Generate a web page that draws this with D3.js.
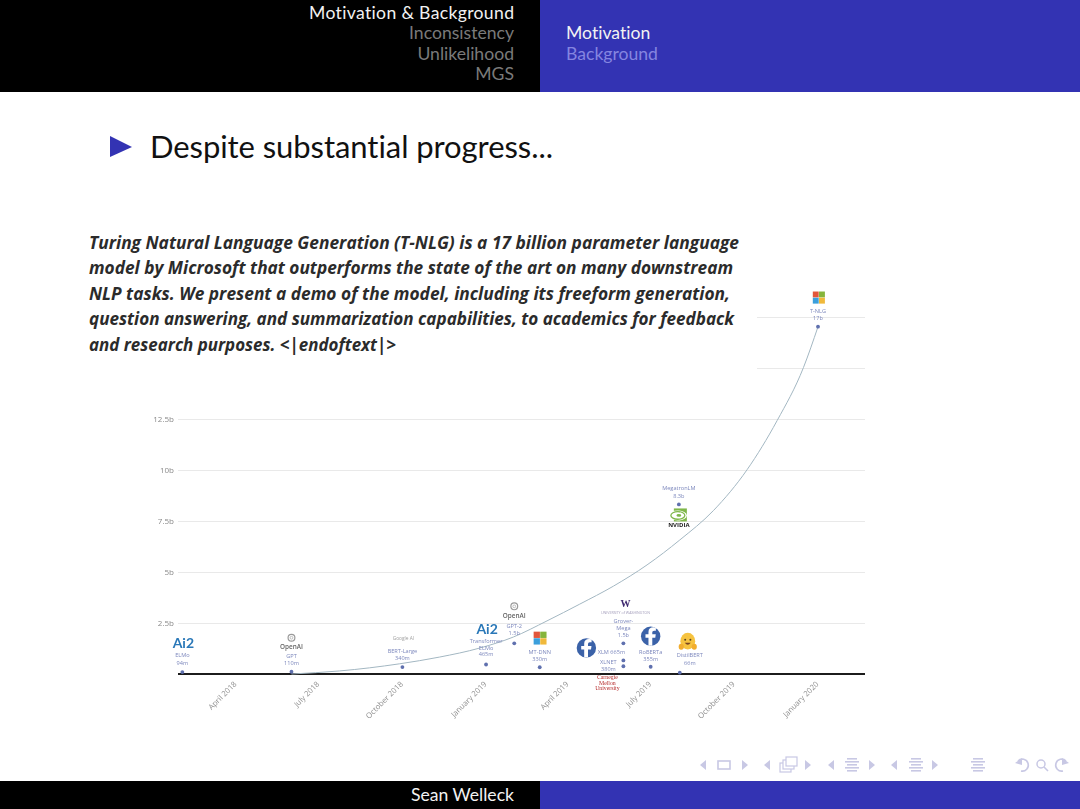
<!DOCTYPE html>
<html>
<head>
<meta charset="utf-8">
<title>Despite substantial progress</title>
<script src="https://cdn.jsdelivr.net/npm/d3@7"></script>
<style>
  html, body { margin: 0; padding: 0; background: #fff; }
  svg { display: block; }
  .slide { font-family: Lato, "Noto Sans", sans-serif; font-variant-ligatures: none; }
  .chart text { font-family: "Open Sans", sans-serif; }
  .quote { font-family: "Open Sans", sans-serif; font-weight: 700; font-style: italic; fill: #2b2b2b; }
  .axis-y .tick line { shape-rendering: crispEdges; }
</style>
</head>
<body>
<svg id="slide" class="slide" width="1080" height="809"></svg>
<script>
// slide text
const navLeft = ['Motivation & Background', 'Inconsistency', 'Unlikelihood', 'MGS'];
const navRight = ['Motivation', 'Background'];
const quoteLines = [
  'Turing Natural Language Generation (T-NLG) is a 17 billion parameter language',
  'model by Microsoft that outperforms the state of the art on many downstream',
  'NLP tasks. We present a demo of the model, including its freeform generation,',
  'question answering, and summarization capabilities, to academics for feedback',
  'and research purposes. <|endoftext|>'
];

// chart values, params in billions
const models = ['ELMo', 'GPT', 'BERT-Large', 'Transformer ELMo', 'GPT-2', 'MT-DNN', 'XLM', 'XLNET', 'Grover Mega', 'RoBERTa', 'DistilBERT', 'MegatronLM', 'T-NLG'];
const modelDates = ['2018-02-01', '2018-06-01', '2018-10-01', '2019-01-01', '2019-02-01', '2019-03-01', '2019-06-01', '2019-06-01', '2019-06-01', '2019-07-01', '2019-08-02', '2019-08-01', '2020-01-01'];
const modelParams = [0.094, 0.11, 0.34, 0.465, 1.5, 0.33, 0.665, 0.38, 1.5, 0.355, 0.066, 8.3, 17];
const paramLabels = ['94m', '110m', '340m', '465m', '1.5b', '330m', '665m', '380m', '1.5b', '355m', '66m', '8.3b', '17b'];

// trend curve
const trendDates = ['2018-06-01', '2018-07-24', '2018-09-28', '2018-11-11', '2018-12-25', '2019-01-31', '2019-03-09', '2019-04-14', '2019-05-21', '2019-06-27', '2019-08-02', '2019-09-08', '2019-10-15', '2019-11-17', '2019-12-16', '2020-01-01'];
const trendValues = [0, 0.15, 0.5, 0.83, 1.27, 1.81, 2.6, 3.42, 4.3, 5.34, 6.56, 8, 10, 12.4, 15, 17];

const yTicks = [2.5, 5, 7.5, 10, 12.5, 15, 17.5];
const xTicks = ['2018-04-01', '2018-07-01', '2018-10-01', '2019-01-01', '2019-04-01', '2019-07-01', '2019-10-01', '2020-01-01'];

const parseDay = d3.timeParse('%Y-%m-%d');
const svg = d3.select('#slide');

// ---- beamer frame
const BLUE = '#3333b3';
svg.append('rect').attr('width', 540).attr('height', 92).attr('fill', '#000');
svg.append('rect').attr('x', 540).attr('width', 540).attr('height', 92).attr('fill', BLUE);
svg.append('rect').attr('y', 781).attr('width', 540).attr('height', 28).attr('fill', '#000');
svg.append('rect').attr('x', 540).attr('y', 781).attr('width', 540).attr('height', 28).attr('fill', BLUE);

svg.selectAll('.nav-left').data(navLeft).join('text')
  .attr('class', 'nav-left')
  .attr('x', 514).attr('y', (d, i) => 18.5 + i * 20.5)
  .attr('text-anchor', 'end').attr('font-size', 17.6)
  .attr('fill', (d, i) => i === 0 ? '#f2f2f2' : '#7a7a7a')
  .attr('textLength', (d, i) => i === 0 ? 205 : null)
  .text(d => d);

svg.selectAll('.nav-right').data(navRight).join('text')
  .attr('class', 'nav-right')
  .attr('x', 566).attr('y', (d, i) => 39 + i * 20.5)
  .attr('font-size', 17.6)
  .attr('fill', (d, i) => i === 0 ? '#f2f2f2' : '#8585e0')
  .text(d => d);

svg.append('text').attr('x', 514).attr('y', 801).attr('text-anchor', 'end')
  .attr('font-size', 17.6).attr('fill', '#f2f2f2').text('Sean Welleck');

svg.append('path').attr('d', 'M110,136 L132,147 L110,157 Z').attr('fill', BLUE);
svg.append('text').attr('x', 150).attr('y', 158).attr('font-size', 31).attr('fill', '#111')
  .attr('textLength', 403).text('Despite substantial progress...');

// ---- chart
const x = d3.scaleTime().domain([parseDay('2018-04-01'), parseDay('2020-01-01')]).range([236, 818]);
const y = d3.scaleLinear().domain([0, 17.5]).range([674, 316.5]);
const LEFT = 178, RIGHT = 865;

svg.append('defs').append('filter').attr('id', 'soft').append('feGaussianBlur').attr('stdDeviation', 0.4);

const chart = svg.append('g').attr('class', 'chart').attr('filter', 'url(#soft)');

// the top two gridlines have no visible label on the slide
const yAxis = d3.axisLeft(y).tickValues(yTicks)
  .tickFormat(d => d > 12.5 ? '' : d + 'b')
  .tickSize(-(RIGHT - LEFT)).tickPadding(4);
const gy = chart.append('g').attr('class', 'axis-y').attr('transform', `translate(${LEFT},0)`).call(yAxis);
gy.select('.domain').remove();
gy.selectAll('.tick line').attr('stroke', '#e9e9e9');
gy.selectAll('.tick text').attr('fill', '#8a8a8a').attr('font-size', 8);

const xAxis = d3.axisBottom(x).tickValues(xTicks.map(parseDay)).tickFormat(d3.timeFormat('%B %Y')).tickSize(0).tickPadding(0);
const gx = chart.append('g').attr('class', 'axis-x').attr('transform', `translate(0,${y(0)})`).call(xAxis);
gx.select('.domain').remove();
gx.selectAll('.tick text')
  .attr('text-anchor', 'end').attr('fill', '#8f8f8f').attr('font-size', 7.7)
  .attr('transform', 'translate(-1,9) rotate(-45)').attr('dy', '0.3em');

chart.append('line').attr('x1', LEFT).attr('x2', RIGHT).attr('y1', y(0)).attr('y2', y(0))
  .attr('stroke', '#1a1a1a').attr('stroke-width', 2);

const trendLine = d3.line().x(d => x(parseDay(d[0]))).y(d => y(d[1])).curve(d3.curveMonotoneX);
chart.append('path').attr('d', trendLine(d3.zip(trendDates, trendValues)))
  .attr('fill', 'none').attr('stroke', '#a3b7c2').attr('stroke-width', 1);

const rows = models.map((m, i) => ({ model: m, date: parseDay(modelDates[i]), value: modelParams[i], label: paramLabels[i] }));

chart.selectAll('.pt').data(rows).join('circle').attr('class', 'pt')
  .attr('cx', d => x(d.date)).attr('cy', d => y(d.value)).attr('r', 1.9).attr('fill', '#5f6fae');

// model labels, pixel offsets from each point
const labelPlace = {
  'ELMo':             { dx: 0, lines: ['ELMo', -17], second: -9 },
  'GPT':              { dx: 0, lines: ['GPT', -16], second: -9 },
  'BERT-Large':       { dx: 0, lines: ['BERT-Large', -15.5], second: -8.5 },
  'Transformer ELMo': { dx: 0, lines: ['Transformer', -23, 'ELMo', -16.5], second: -10 },
  'GPT-2':            { dx: 0, lines: ['GPT-2', -17.5], second: -10.5 },
  'MT-DNN':           { dx: 0, lines: ['MT-DNN', -15.5], second: -8 },
  'XLNET':            { dx: -15, lines: ['XLNET', -4.5], second: 2.5 },
  'Grover Mega':      { dx: 0, lines: ['Grover-', -22.5, 'Mega', -15.5], second: -8.5 },
  'RoBERTa':          { dx: 0, lines: ['RoBERTa', -15], second: -8 },
  'DistilBERT':       { dx: 10, lines: ['DistilBERT', -17.5], second: -9.5 },
  'MegatronLM':       { dx: 0, lines: ['MegatronLM', -16.5], second: -8.5 },
  'T-NLG':            { dx: 0, lines: ['T-NLG', -15.5], second: -8.5 }
};

const labels = chart.append('g').attr('text-anchor', 'middle').attr('font-size', 5.6).attr('fill', '#7d88bd');
rows.forEach(d => {
  const py = y(d.value) + 1.8, px = x(d.date);
  if (d.model === 'XLM') {
    labels.append('text').attr('x', px - 12).attr('y', py - 8).text('XLM ' + d.label);
    return;
  }
  const p = labelPlace[d.model];
  for (let i = 0; i < p.lines.length; i += 2) {
    labels.append('text').attr('x', px + p.dx).attr('y', py + p.lines[i + 1]).text(p.lines[i]);
  }
  labels.append('text').attr('x', px + p.dx).attr('y', py + p.second).text(d.label);
});

// ---- logos, placed relative to their model's point
function at(model, dx, dy) {
  const d = rows.find(r => r.model === model);
  return chart.append('g').attr('transform', `translate(${x(d.date) + dx},${y(d.value) + dy})`);
}

function ai2(g) {
  g.append('text').attr('text-anchor', 'middle').attr('y', 4).attr('font-size', 14).attr('font-weight', 700)
    .attr('fill', '#2a78b8').style('font-family', 'Lato, sans-serif').text('Ai2');
}
function openai(g) {
  g.append('circle').attr('r', 3.4).attr('fill', 'none').attr('stroke', '#9a9a9a').attr('stroke-width', 1.2);
  g.append('circle').attr('r', 1.4).attr('fill', 'none').attr('stroke', '#a5a5a5').attr('stroke-width', 0.7);
  g.append('text').attr('text-anchor', 'middle').attr('y', 11.5).attr('font-size', 6.4).attr('font-weight', 600)
    .attr('fill', '#666').text('OpenAI');
}
function microsoft(g, s) {
  const cells = [['#e2573a', 0, 0], ['#86b53a', 1, 0], ['#3a9fdc', 0, 1], ['#f0b93a', 1, 1]];
  g.selectAll(null).data(cells).join('rect')
    .attr('x', c => (c[1] - 1) * s).attr('y', c => (c[2] - 1) * s)
    .attr('width', s - 0.3).attr('height', s - 0.3).attr('fill', c => c[0]);
}
function facebook(g) {
  g.append('circle').attr('r', 9.7).attr('fill', '#3b62a8');
  g.append('path').attr('fill', '#fff')
    .attr('d', 'M1.6,9.4 V1.5 H4.6 L5.1,-2 H1.6 V-4 Q1.6,-5.6 3.4,-5.6 H5.2 V-8.6 Q3.8,-8.9 2.8,-8.9 Q-2.2,-8.9 -2.2,-4.3 V-2 H-5.2 V1.5 H-2.2 V9.4 Z');
}

ai2(at('ELMo', 1, -28));
openai(at('GPT', 0, -34));
at('BERT-Large', 1, -27.5).append('text').attr('text-anchor', 'middle').attr('font-size', 4.8).attr('fill', '#a0a0a0').text('Google AI');
ai2(at('Transformer ELMo', 1, -34.5));
openai(at('GPT-2', 0, -37));
microsoft(at('MT-DNN', 0.5, -29), 6.6);
facebook(at('XLM', -37, -12.5));
facebook(at('RoBERTa', 0, -30.5));
microsoft(at('T-NLG', 1, -29), 6.2);

const wash = at('Grover Mega', 2, -36);
wash.append('text').attr('text-anchor', 'middle').attr('font-size', 10).attr('font-weight', 700)
  .attr('fill', '#3f2a70').style('font-family', '"Liberation Serif", serif').text('W');
wash.append('text').attr('text-anchor', 'middle').attr('y', 7).attr('font-size', 3.6).attr('fill', '#a29cba').text('UNIVERSITY of WASHINGTON');

const cmuLines = ['Carnegie', 'Mellon', 'University'];
at('XLNET', -16, 13).selectAll(null).data(cmuLines).join('text')
  .attr('text-anchor', 'middle').attr('y', (d, i) => i * 5.6)
  .attr('font-size', 5.8).attr('fill', '#b52b2b').style('font-family', '"Liberation Serif", serif')
  .text(d => d);

const hug = at('DistilBERT', 8, -31);
hug.append('ellipse').attr('cy', -0.5).attr('rx', 7.4).attr('ry', 8.4).attr('fill', '#f6c340');
hug.append('ellipse').attr('cx', -6.5).attr('cy', 5).attr('rx', 2.6).attr('ry', 3).attr('fill', '#f2ad2e');
hug.append('ellipse').attr('cx', 6.5).attr('cy', 5).attr('rx', 2.6).attr('ry', 3).attr('fill', '#f2ad2e');
hug.append('circle').attr('cx', -2.6).attr('cy', -1.8).attr('r', 1).attr('fill', '#5c4520');
hug.append('circle').attr('cx', 2.6).attr('cy', -1.8).attr('r', 1).attr('fill', '#5c4520');
hug.append('path').attr('d', 'M-3,1 Q0,5 3,1 Z').attr('fill', '#7a4420');

const nv = at('MegatronLM', 0, 11);
nv.append('rect').attr('x', -5).attr('y', -7).attr('width', 13).attr('height', 13).attr('fill', '#7fb74a');
nv.append('ellipse').attr('cx', -1).attr('cy', 0).attr('rx', 9).attr('ry', 5).attr('fill', '#fff');
nv.append('ellipse').attr('cx', -1).attr('cy', 0).attr('rx', 7).attr('ry', 3.8).attr('fill', 'none')
  .attr('stroke', '#7fb74a').attr('stroke-width', 1.3);
nv.append('ellipse').attr('cx', 0).attr('cy', 0).attr('rx', 2.4).attr('ry', 1.4).attr('fill', '#7fb74a');
nv.append('text').attr('text-anchor', 'middle').attr('y', 11.5).attr('font-size', 6).attr('font-weight', 700)
  .attr('fill', '#222').text('NVIDIA');

// quote sits on a white box that hides the upper gridlines, same as the slide
const quoteFit = [650, 644, 641, 645, 307];
svg.append('rect').attr('x', 80).attr('y', 225).attr('width', 677).attr('height', 145).attr('fill', '#fff');
svg.selectAll('.quote').data(quoteLines).join('text')
  .attr('class', 'quote')
  .attr('x', 89).attr('y', (d, i) => 249 + i * 25.4)
  .attr('font-size', 17.2)
  .attr('textLength', (d, i) => quoteFit[i]).attr('lengthAdjust', 'spacingAndGlyphs')
  .text(d => d);

// ---- beamer navigation symbols
const NAV = '#c8c8e4';
const nav = svg.append('g').attr('fill', NAV).attr('stroke', 'none');
const triangles = [[703, -1], [745, 1], [767, -1], [808, 1], [831, -1], [872, 1], [894, -1], [935, 1]];
nav.selectAll('.tri').data(triangles).join('path').attr('class', 'tri')
  .attr('d', d => `M${d[0] - 3 * d[1]},760 L${d[0] + 3 * d[1]},765 L${d[0] - 3 * d[1]},770 Z`);
nav.append('rect').attr('x', 718).attr('y', 761).attr('width', 12).attr('height', 8)
  .attr('fill', 'none').attr('stroke', NAV).attr('stroke-width', 1.6);
[[780, 763], [783, 760], [786, 757]].forEach(b => {
  nav.append('rect').attr('x', b[0]).attr('y', b[1]).attr('width', 11).attr('height', 9)
    .attr('fill', '#fff').attr('stroke', NAV).attr('stroke-width', 1.2);
});
[[852, 758], [916, 758], [978, 758]].forEach(c => {
  d3.range(5).forEach(i => {
    nav.append('rect').attr('x', c[0] - (i % 2 ? 7 : 5)).attr('y', c[1] + i * 3)
      .attr('width', i % 2 ? 14 : 10).attr('height', 1.6);
  });
});
nav.append('path').attr('d', 'M1018,761 A6,6 0 1 1 1021,771').attr('fill', 'none').attr('stroke', NAV).attr('stroke-width', 1.6);
nav.append('path').attr('d', 'M1015,763 L1022,758 L1022,765 Z');
nav.append('circle').attr('cx', 1041).attr('cy', 764).attr('r', 4).attr('fill', 'none').attr('stroke', NAV).attr('stroke-width', 1.5);
nav.append('line').attr('x1', 1044).attr('y1', 767).attr('x2', 1048).attr('y2', 771).attr('stroke', NAV).attr('stroke-width', 1.6);
nav.append('path').attr('d', 'M1066,761 A6,6 0 1 0 1063,771').attr('fill', 'none').attr('stroke', NAV).attr('stroke-width', 1.6);
nav.append('path').attr('d', 'M1069,763 L1062,758 L1062,765 Z');
</script>
</body>
</html>
